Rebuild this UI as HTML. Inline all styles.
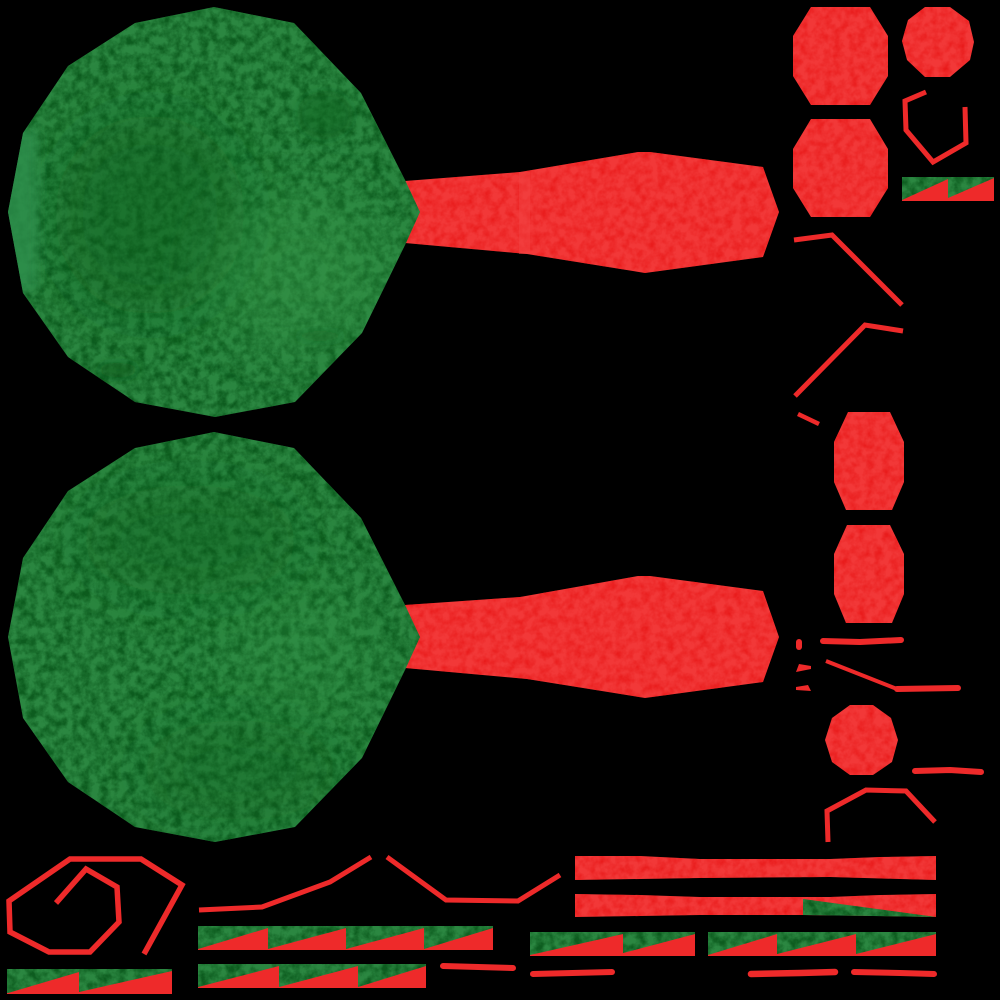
<!DOCTYPE html>
<html lang="en">
<head>
<meta charset="utf-8">
<title>Texture atlas</title>
<style>
html,body{margin:0;padding:0;background:#000;width:1000px;height:1000px;overflow:hidden}
svg{display:block}
.r{fill:#f23838}
.g{fill:#2b8741}
.s{fill:#ee2a2a}
.l{fill:none;stroke:#ee2a2a;stroke-linejoin:miter;stroke-linecap:butt}
.rl{fill:none;stroke:#ee2a2a;stroke-linejoin:round;stroke-linecap:round}
</style>
</head>
<body>
<svg xmlns="http://www.w3.org/2000/svg" width="1000" height="1000" viewBox="0 0 1000 1000">
<defs>
<filter id="tg" x="0" y="0" width="1" height="1" color-interpolation-filters="sRGB">
<feTurbulence type="fractalNoise" baseFrequency="0.11" numOctaves="4" seed="4" result="n"/>
<feColorMatrix in="n" type="matrix" values="0 0 0 0 0.05  0 0 0 0 0.36  0 0 0 0 0.12  2.2 0 0 0 -0.75" result="s"/>
<feComposite in="s" in2="SourceAlpha" operator="in" result="c"/>
<feMerge><feMergeNode in="SourceGraphic"/><feMergeNode in="c"/></feMerge>
</filter>
<filter id="tr" x="0" y="0" width="1" height="1" color-interpolation-filters="sRGB">
<feTurbulence type="fractalNoise" baseFrequency="0.12" numOctaves="3" seed="9" result="n"/>
<feColorMatrix in="n" type="matrix" values="0 0 0 0 0.91  0 0 0 0 0.1  0 0 0 0 0.1  1.8 0 0 0 -0.65" result="s"/>
<feComposite in="s" in2="SourceAlpha" operator="in" result="c"/>
<feMerge><feMergeNode in="SourceGraphic"/><feMergeNode in="c"/></feMerge>
</filter>
<filter id="bl" x="-50%" y="-50%" width="200%" height="200%"><feGaussianBlur stdDeviation="28"/></filter>
<filter id="bs" x="-50%" y="-50%" width="200%" height="200%"><feGaussianBlur stdDeviation="5"/></filter>
<clipPath id="disc-a"><polygon points="214,7 294,23 361,93 405,180 420,212 405,245 362,333 295,402 215,417 135,402 68,357 23,293 8,212 23,133 68,66 135,23"/></clipPath>
<clipPath id="disc-b"><polygon points="214,432 294,448 361,518 405,605 420,637 405,670 362,758 295,827 215,842 135,827 68,782 23,718 8,637 23,558 68,491 135,448"/></clipPath>
</defs>

<rect width="1000" height="1000" fill="#000"/>

<g>
<polygon class="r" filter="url(#tr)" points="405,181 520,172 638,152 650,152 763,167 779,212 763,257 645,273 527,254 405,243"/>
<rect x="519" y="172" width="11" height="82" fill="#f24444" opacity=".45"/>
<polygon class="g" filter="url(#tg)" points="214,7 294,23 361,93 405,180 420,212 405,245 362,333 295,402 215,417 135,402 68,357 23,293 8,212 23,133 68,66 135,23"/>
<g clip-path="url(#disc-a)">
<ellipse cx="150" cy="215" rx="95" ry="100" fill="#0f5e1c" opacity=".5" filter="url(#bl)"/>
<ellipse cx="325" cy="115" rx="28" ry="24" fill="#0f5e1c" opacity=".45" filter="url(#bs)"/>
<ellipse cx="320" cy="336" rx="24" ry="5" fill="#0d5a1a" opacity=".7" filter="url(#bs)"/>
<ellipse cx="118" cy="370" rx="20" ry="7" fill="#0d5a1a" opacity=".7" filter="url(#bs)"/>
<ellipse cx="300" cy="270" rx="90" ry="80" fill="#37984a" opacity=".4" filter="url(#bl)"/>
<rect x="0" y="130" width="38" height="160" fill="#2f8f4e" opacity=".8" filter="url(#bs)"/>
</g>
</g>

<g>
<polygon class="r" filter="url(#tr)" points="405,605 520,597 638,576 650,576 763,591 779,637 763,682 645,698 527,679 405,668"/>
<polygon class="g" filter="url(#tg)" points="214,432 294,448 361,518 405,605 420,637 405,670 362,758 295,827 215,842 135,827 68,782 23,718 8,637 23,558 68,491 135,448"/>
<g clip-path="url(#disc-b)">
<ellipse cx="190" cy="540" rx="110" ry="55" fill="#0f5e1c" opacity=".4" filter="url(#bl)"/>
<ellipse cx="240" cy="770" rx="100" ry="50" fill="#0f5e1c" opacity=".35" filter="url(#bl)"/>
<ellipse cx="300" cy="650" rx="70" ry="70" fill="#37984a" opacity=".25" filter="url(#bl)"/>
</g>
</g>

<g filter="url(#tr)">
<polygon class="r" points="811,7 870,7 888,36 888,76 870,105 811,105 793,76 793,36"/>
<polygon class="r" points="811,119 870,119 888,149 888,188 870,217 811,217 793,188 793,149"/>
<polygon class="r" points="925,7 950,7 969,21 974,42 970,60 950,77 925,77 907,60 902,41 908,20"/>
<polygon class="r" points="848,412 890,412 904,442 904,482 892,510 846,510 834,482 834,442"/>
<polygon class="r" points="847,525 890,525 904,554 904,594 892,623 846,623 834,594 834,554"/>
<polygon class="r" points="850,705 873,705 891,718 898,740 892,762 873,775 850,775 832,762 825,740 832,718"/>
<polygon class="r" points="575,856 640,856 700,859 830,859 880,857 936,856 936,880 900,879 830,877 700,878 640,879 575,880"/>
<polygon class="r" points="575,894 640,895 700,897 830,897 880,895 936,894 936,917 880,916 803,915 700,915 640,916 575,917"/>
</g>

<g>
<polyline class="l" stroke-width="5" points="926,92 905,101 906,130 933,162 966,143 965,107"/>
<polyline class="l" stroke-width="5" points="794,240 832,235 902,305"/>
<polyline class="l" stroke-width="5" points="903,331 865,325 795,396"/>
<polyline class="l" stroke-width="4.5" points="798,414 819,424"/>
<polyline class="rl" stroke-width="6" points="823,641 860,642 901,640"/>
<polyline class="rl" stroke-width="6" points="799,642 799,647"/>
<polygon class="s" points="796,672 799,664 811,666 811,669"/>
<polygon class="s" points="796,687 808,685 811,691 796,690"/>
<polyline class="l" stroke-width="4" points="826,661 897,689"/>
<polyline class="rl" stroke-width="6" points="897,689 958,688"/>
<polyline class="rl" stroke-width="6" points="915,771 950,770 981,772"/>
<polyline class="l" stroke-width="5" points="828,842 827,811 866,790 906,791 935,822"/>
<polyline class="l" stroke-width="5.5" points="144,954 182,885 141,859 70,859 9,901 10,932 49,952 90,952 119,922 117,887 86,869 56,903"/>
<polyline class="l" stroke-width="5" points="199,910 262,907 330,882 371,857"/>
<polyline class="l" stroke-width="5" points="387,857 446,900 518,901 560,875"/>
<polyline class="rl" stroke-width="6" points="443,966 513,968"/>
<polyline class="rl" stroke-width="6" points="533,974 612,972"/>
<polyline class="rl" stroke-width="6.5" points="751,974 800,973 835,972"/>
<polyline class="rl" stroke-width="6" points="854,972 900,973 934,974"/>
</g>

<g>
<g>
<rect x="902" y="177" width="92" height="24" class="s"/>
<polygon class="g" filter="url(#tg)" points="902,177 948,177 948,179 902,200"/>
<polygon class="g" filter="url(#tg)" points="948,177 994,177 994,178 948,198"/>
</g>
<g>
<rect x="7" y="969" width="165" height="25" class="s"/>
<polygon class="g" filter="url(#tg)" points="7,969 79,969 79,972 8,993 7,993"/>
<polygon class="g" filter="url(#tg)" points="79,969 172,969 172,971 79,992"/>
</g>
<g>
<rect x="198" y="926" width="295" height="24" class="s"/>
<polygon class="g" filter="url(#tg)" points="198,926 268,926 268,928 198,949"/>
<polygon class="g" filter="url(#tg)" points="268,926 346,926 346,928 268,949"/>
<polygon class="g" filter="url(#tg)" points="346,926 424,926 424,928 346,949"/>
<polygon class="g" filter="url(#tg)" points="424,926 493,926 493,928 424,949"/>
</g>
<g>
<rect x="198" y="964" width="228" height="24" class="s"/>
<polygon class="g" filter="url(#tg)" points="198,964 279,964 279,966 198,987"/>
<polygon class="g" filter="url(#tg)" points="279,964 358,964 358,966 279,987"/>
<polygon class="g" filter="url(#tg)" points="358,964 426,964 426,966 358,987"/>
</g>
<g>
<rect x="530" y="932" width="165" height="24" class="s"/>
<polygon class="g" filter="url(#tg)" points="530,932 623,932 623,934 530,955"/>
<polygon class="g" filter="url(#tg)" points="623,932 695,932 695,934 623,953"/>
</g>
<g>
<rect x="708" y="932" width="228" height="24" class="s"/>
<polygon class="g" filter="url(#tg)" points="708,932 777,932 777,934 708,955"/>
<polygon class="g" filter="url(#tg)" points="777,932 856,932 856,934 777,954"/>
<polygon class="g" filter="url(#tg)" points="856,932 936,932 936,934 856,954"/>
</g>
<polygon class="g" filter="url(#tg)" points="803,899 936,917 803,915"/>
</g>
</svg>
</body>
</html>
